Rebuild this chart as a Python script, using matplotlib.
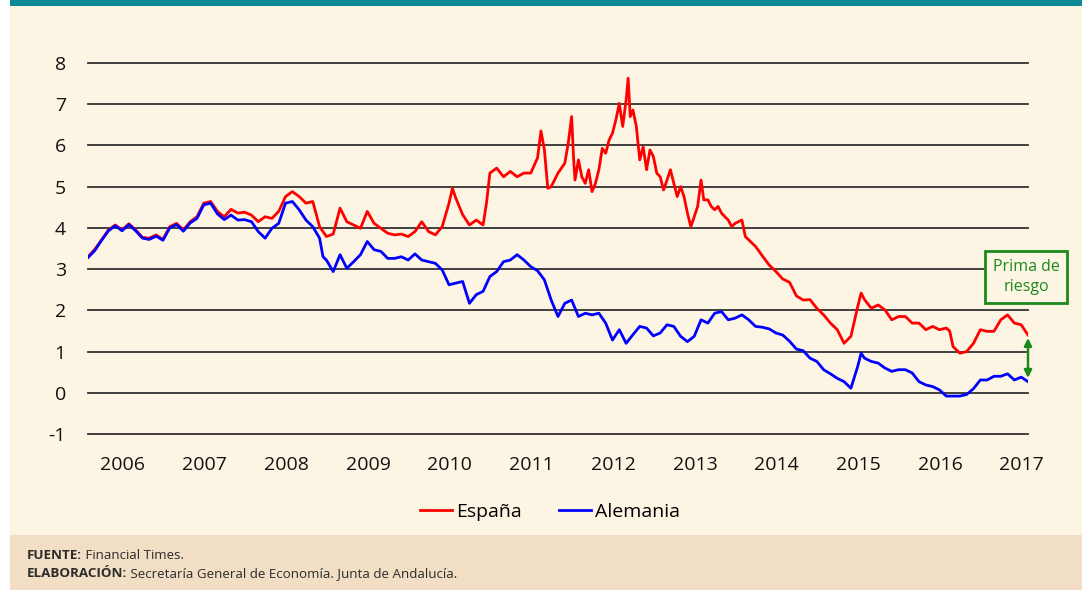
import matplotlib
matplotlib.use("Agg")
import matplotlib.pyplot as plt
from matplotlib.patches import Rectangle

# ---- data (x = months since Jan 2006) ----
spain_months = [0, 1, 2, 3, 4, 5, 6, 7, 8, 9, 10, 11, 12, 13, 14, 15, 16, 17, 18, 19,
                20, 21, 22, 23, 24, 25, 26, 27, 28, 29, 30, 31, 32, 33, 34, 35, 36, 37, 38, 39,
                40, 41, 42, 43, 44, 45, 46, 47, 48, 49, 50, 51, 52, 53, 53.5, 54, 55, 56, 57, 58,
                58.5, 59, 60, 61, 62, 63, 64, 65, 66, 66.5, 67, 67.5, 68, 69, 70, 70.5, 71, 71.3, 71.5, 72,
                72.5, 73, 73.5, 74, 74.5, 75, 75.5, 76, 76.5, 77, 77.5, 78, 78.5, 79, 79.3, 79.6, 80, 80.5, 81, 81.5,
                82, 82.5, 83, 83.5, 84, 84.5, 85, 85.5, 86, 86.5, 87, 87.5, 88, 88.5, 89, 89.5, 90, 90.4, 91, 91.5,
                92, 92.5, 93, 93.5, 94, 94.5, 95, 96, 96.5, 97, 98, 99, 100, 101, 102, 103, 104, 105, 106, 107,
                108, 109, 110, 111, 112, 113, 113.5, 114, 115, 116, 117, 118, 119, 120, 121, 122, 123, 124, 125, 126,
                126.5, 127, 128, 129, 130, 131, 132, 133, 134, 135, 136, 137, 138]
spain_values = [3.30, 3.48, 3.71, 3.95, 4.07, 3.95, 4.10, 3.95, 3.77, 3.75, 3.83, 3.72, 4.03, 4.11, 3.95, 4.15, 4.27, 4.60, 4.64, 4.40,
                4.27, 4.45, 4.36, 4.38, 4.31, 4.15, 4.27, 4.23, 4.40, 4.76, 4.88, 4.76, 4.60, 4.64, 4.03, 3.79, 3.85, 4.48, 4.15, 4.07,
                3.99, 4.40, 4.11, 3.99, 3.87, 3.83, 3.85, 3.79, 3.91, 4.15, 3.91, 3.83, 4.03, 4.60, 4.96, 4.72, 4.32, 4.07, 4.19, 4.07,
                4.60, 5.33, 5.45, 5.24, 5.37, 5.24, 5.33, 5.33, 5.70, 6.35, 5.90, 4.96, 5.00, 5.33, 5.57, 6.05, 6.70, 5.65, 5.16, 5.65,
                5.24, 5.08, 5.41, 4.88, 5.08, 5.41, 5.93, 5.81, 6.13, 6.30, 6.62, 7.02, 6.46, 7.10, 7.63, 6.70, 6.86, 6.46, 5.65, 5.97,
                5.41, 5.89, 5.73, 5.33, 5.24, 4.92, 5.16, 5.41, 5.08, 4.76, 5.00, 4.76, 4.36, 4.03, 4.27, 4.52, 5.16, 4.68, 4.68, 4.52,
                4.44, 4.52, 4.36, 4.27, 4.19, 4.03, 4.11, 4.19, 3.79, 3.71, 3.55, 3.32, 3.10, 2.94, 2.76, 2.68, 2.35, 2.25, 2.26, 2.05,
                1.89, 1.69, 1.53, 1.20, 1.37, 2.09, 2.42, 2.26, 2.05, 2.13, 2.01, 1.77, 1.85, 1.85, 1.69, 1.69, 1.53, 1.61, 1.53, 1.57,
                1.50, 1.12, 0.96, 1.00, 1.20, 1.53, 1.49, 1.49, 1.77, 1.89, 1.69, 1.65, 1.40]

germany_months = [0, 1, 2, 3, 4, 5, 6, 7, 8, 9, 10, 11, 12, 13, 14, 15, 16, 17, 18, 19,
                  20, 21, 22, 23, 24, 25, 26, 27, 28, 29, 30, 31, 32, 33, 34, 34.5, 35, 36, 37, 38,
                  39, 40, 41, 42, 43, 44, 45, 46, 47, 48, 49, 50, 51, 52, 53, 54, 55, 56, 57, 58,
                  59, 60, 61, 62, 63, 64, 65, 66, 67, 68, 69, 70, 71, 72, 73, 74, 75, 76, 77, 78,
                  79, 80, 81, 82, 83, 84, 85, 86, 87, 88, 89, 90, 91, 92, 93, 94, 95, 96, 97, 98,
                  99, 100, 101, 102, 103, 104, 105, 106, 107, 108, 109, 110, 111, 112, 113, 113.5, 114, 115, 116, 117,
                  118, 119, 120, 121, 122, 123, 124, 125, 126, 127, 128, 129, 130, 131, 132, 133, 134, 135, 136, 137, 138]
germany_values = [3.28, 3.45, 3.70, 3.93, 4.05, 3.93, 4.08, 3.93, 3.75, 3.72, 3.80, 3.70, 4.00, 4.08, 3.92, 4.12, 4.23, 4.56, 4.60, 4.34,
                  4.20, 4.31, 4.19, 4.20, 4.15, 3.91, 3.75, 3.99, 4.11, 4.60, 4.64, 4.44, 4.19, 4.03, 3.75, 3.30, 3.22, 2.94, 3.35, 3.02,
                  3.18, 3.35, 3.67, 3.47, 3.43, 3.26, 3.26, 3.30, 3.22, 3.37, 3.22, 3.18, 3.14, 2.98, 2.62, 2.66, 2.70, 2.17, 2.38, 2.46,
                  2.82, 2.94, 3.18, 3.22, 3.35, 3.22, 3.06, 2.96, 2.74, 2.25, 1.85, 2.17, 2.25, 1.85, 1.93, 1.89, 1.93, 1.69, 1.28, 1.53,
                  1.20, 1.41, 1.61, 1.57, 1.38, 1.45, 1.65, 1.61, 1.37, 1.24, 1.37, 1.77, 1.69, 1.93, 1.97, 1.77, 1.81, 1.89, 1.77, 1.61,
                  1.59, 1.55, 1.45, 1.40, 1.25, 1.06, 1.02, 0.84, 0.76, 0.56, 0.46, 0.35, 0.27, 0.11, 0.64, 0.96, 0.84, 0.76, 0.72, 0.60,
                  0.52, 0.56, 0.56, 0.48, 0.27, 0.19, 0.15, 0.07, -0.08, -0.08, -0.08, -0.04, 0.10, 0.31, 0.31, 0.40, 0.40, 0.46, 0.31, 0.38, 0.27]

year_labels = ["2006", "2007", "2008", "2009", "2010", "2011", "2012", "2013", "2014", "2015", "2016", "2017"]
y_ticks = [-1, 0, 1, 2, 3, 4, 5, 6, 7, 8]
series_names = ["España", "Alemania"]
annotation_text = "Prima de\nriesgo"
source_label = "FUENTE:"
source_text = " Financial Times."
author_label = "ELABORACIÓN:"
author_text = " Secretaría General de Economía. Junta de Andalucía."

# ---- style ----
FONT = "Open Sans"
plt.rcParams["font.family"] = [FONT, "DejaVu Sans"]
CREAM = "#FDF5E3"
FOOTER = "#F2DEC4"
TEAL = "#0A8A96"
GREEN = "#1B8A1B"
W, H = 1082, 590

fig = plt.figure(figsize=(W / 100, H / 100), dpi=100)
fig.patch.set_facecolor("white")

def px_rect(x0, y0, x1, y1, color):
    fig.patches.append(Rectangle((x0 / W, 1 - y1 / H), (x1 - x0) / W, (y1 - y0) / H,
                                 transform=fig.transFigure, facecolor=color,
                                 edgecolor="none", zorder=-10))

px_rect(10, 0, W, H, CREAM)
px_rect(10, 0, W, 6, TEAL)
px_rect(10, 535, W, H, FOOTER)

ax = fig.add_axes([88 / W, 1 - 434 / H, 940 / W, 371 / H])
ax.set_facecolor("none")
for s in ax.spines.values():
    s.set_visible(False)

for v in y_ticks:
    ax.axhline(v, color="#333333", lw=1.3, zorder=1, clip_on=False)

ax.plot(spain_months, spain_values, color="#FF0000", lw=2.0, label=series_names[0], zorder=3)
ax.plot(germany_months, germany_values, color="#0000FF", lw=2.0, label=series_names[1], zorder=4)

ax.set_xlim(0, 138)
ax.set_ylim(-1, 8)
ax.set_yticks(y_ticks)
ax.set_yticklabels([str(v) for v in y_ticks])
ax.set_xticks([5.1 + 12 * i for i in range(len(year_labels))])
ax.set_xticklabels(year_labels)
ax.tick_params(axis="both", length=0, labelsize=14, colors="#111111")
ax.tick_params(axis="y", pad=16)
ax.tick_params(axis="x", pad=16)

# annotation: risk premium arrow + box
ax.annotate("", xy=(spain_months[-1], spain_values[-1] - 0.07),
            xytext=(germany_months[-1], germany_values[-1] + 0.09),
            arrowprops=dict(arrowstyle="<|-|>", color=GREEN, lw=1.8,
                            mutation_scale=11, shrinkA=0, shrinkB=0),
            annotation_clip=False, zorder=6)
ax.text(137.7, 2.80, annotation_text, ha="center", va="center", fontsize=11.5,
        color=GREEN, linespacing=1.35, zorder=7, clip_on=False,
        bbox=dict(boxstyle="square,pad=0.5", fc=CREAM, ec=GREEN, lw=2))

leg = fig.legend(loc="center", bbox_to_anchor=(550 / W, 1 - 512 / H), ncol=2,
                 frameon=False, fontsize=14, handlelength=1.65, handletextpad=0.2,
                 columnspacing=1.9)

# footer texts
FS = 9.6
t1 = fig.text(27 / W, 1 - 559 / H, source_label, fontsize=FS, fontweight="bold",
              color="#2b2b2b", va="baseline")
fig.add_artist(plt.Annotation(source_text, xy=(1, 0), xycoords=t1,
                              va="bottom", fontsize=FS, color="#2b2b2b"))
t2 = fig.text(27 / W, 1 - 577 / H, author_label, fontsize=FS, fontweight="bold",
              color="#2b2b2b", va="baseline")
fig.add_artist(plt.Annotation(author_text, xy=(1, 0), xycoords=t2,
                              va="bottom", fontsize=FS, color="#2b2b2b"))

fig.savefig("out.png", dpi=100, facecolor=fig.get_facecolor())
